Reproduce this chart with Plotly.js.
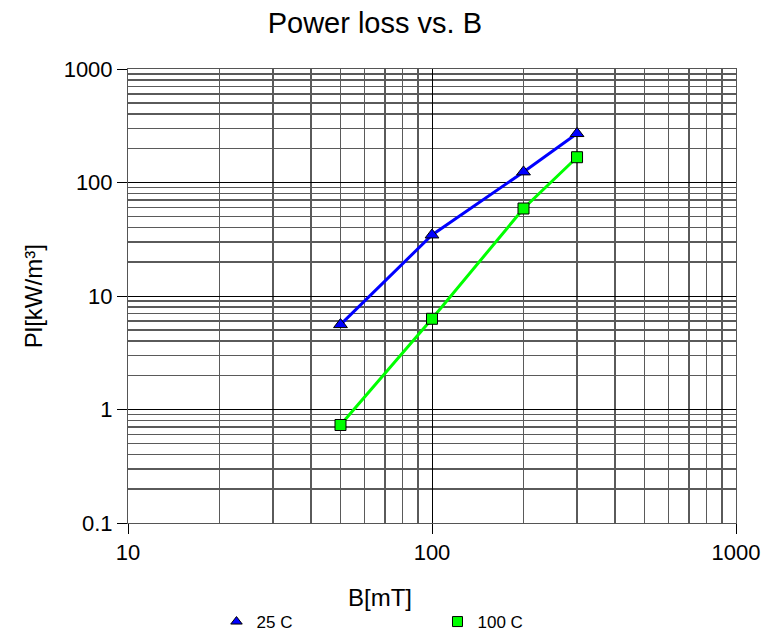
<!DOCTYPE html>
<html>
<head>
<meta charset="utf-8">
<script src="https://cdn.plot.ly/plotly-3.0.1.min.js"></script>
<style>html,body{margin:0;padding:0;background:#fff;}#chart{width:765px;height:640px;}</style>
</head>
<body>
<div id="chart"></div>
<script>
const B_mT = [50, 100, 200, 300];
const loss25C = [5.6, 34.5, 124, 270];
const loss100C = [0.73, 6.3, 59, 167];
const seriesNames = ["25 C", "100 C"];
const seriesColors = ["#0000FF", "#00FF00"];
const seriesSymbols = ["triangle-up", "square"];

const FONT = "Liberation Sans, Arial, sans-serif";

const ys = [loss25C, loss100C];
const traces = [];
ys.forEach((y, i) => {
  traces.push({
    x: B_mT, y: y, name: seriesNames[i], type: "scatter", mode: "lines+markers",
    showlegend: false,
    line: {color: seriesColors[i], width: 3},
    marker: {symbol: seriesSymbols[i], size: i === 0 ? 12 : 11, color: seriesColors[i], line: {color: "#000", width: 1}}
  });
});
ys.forEach((y, i) => {
  traces.push({
    x: [null], y: [null], name: seriesNames[i], type: "scatter", mode: "markers",
    showlegend: true,
    marker: {symbol: seriesSymbols[i], size: 10, color: seriesColors[i], line: {color: "#000", width: 1}}
  });
});

const axisCommon = {
  type: "log",
  dtick: 1,
  showgrid: true,
  gridcolor: "#000",
  gridwidth: 1,
  showline: true,
  linecolor: "#555",
  linewidth: 1,
  mirror: true,
  ticks: "outside",
  ticklen: 10,
  tickcolor: "#000",
  tickfont: {family: FONT, size: 22, color: "#000"},
  zeroline: false,
  minor: {dtick: "D1", showgrid: true, gridcolor: "#5a5a5a", gridwidth: 1.5, ticks: ""}
};

const layout = {
  width: 765, height: 640,
  paper_bgcolor: "#fff", plot_bgcolor: "#fff",
  margin: {l: 128, r: 29, t: 69, b: 117},
  title: {text: "Power loss vs. B", font: {family: FONT, size: 29, color: "#000"}, x: 0.49, xref: "container", y: 0.964, yref: "container", yanchor: "middle"},
  xaxis: Object.assign({}, axisCommon, {range: [1, 3]}),
  yaxis: Object.assign({}, axisCommon, {range: [-1, 3]}),
  showlegend: true,
  legend: {
    orientation: "h", x: 0.283, xref: "container", y: 0.0, yref: "container", yanchor: "bottom", xanchor: "left",
    font: {family: FONT, size: 17, color: "#000"},
    entrywidth: 176, entrywidthmode: "pixels", itemwidth: 30
  },
  annotations: [
    {text: "B[mT]", xref: "paper", yref: "paper", x: 0.415, y: -0.165, xanchor: "center", yanchor: "middle", showarrow: false, font: {family: FONT, size: 24, color: "#000"}},
    {text: "Pl[kW/m³]", xref: "paper", yref: "paper", x: -0.156, y: 0.5, textangle: -90, xanchor: "center", yanchor: "middle", showarrow: false, font: {family: FONT, size: 24, color: "#000"}}
  ]
};

Plotly.newPlot("chart", traces, layout, {displayModeBar: false, staticPlot: true});
</script>
</body>
</html>
